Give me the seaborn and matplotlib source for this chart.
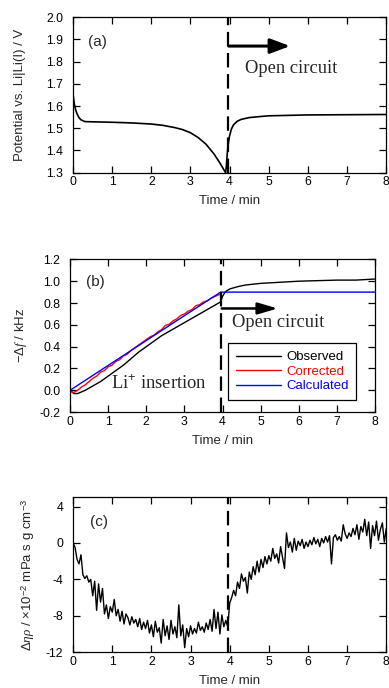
import numpy as np
import pandas as pd
import seaborn as sns
import matplotlib
matplotlib.use("Agg")
import matplotlib.pyplot as plt

# ---- (a) electrode potential
pot_t = [0.0, 0.03, 0.06, 0.1, 0.15, 0.2, 0.3, 0.5, 1.0, 1.5, 2.0, 2.3, 2.6, 2.8, 3.0, 3.2, 3.4,
         3.6, 3.75, 3.85, 3.9, 3.92, 3.94, 3.96, 4.0, 4.05, 4.1, 4.2, 4.3, 4.5, 4.8, 5.0, 6.0, 7.0, 8.0]
pot_v = [1.65, 1.61, 1.585, 1.565, 1.548, 1.538, 1.530, 1.529, 1.527, 1.524, 1.519, 1.513, 1.503,
         1.494, 1.480, 1.458, 1.428, 1.385, 1.345, 1.315, 1.300, 1.330, 1.380, 1.420, 1.465,
         1.497, 1.515, 1.532, 1.540, 1.548, 1.553, 1.556, 1.560, 1.561, 1.562]

# ---- (b) frequency change
obs_t = [0.0, 0.1, 0.2, 0.3, 0.4, 0.5, 0.6, 0.8, 1.0, 1.2, 1.4, 1.6, 1.8, 2.0, 2.2, 2.4, 2.6,
         2.8, 3.0, 3.2, 3.4, 3.6, 3.8, 3.95, 4.0, 4.05, 4.1, 4.2, 4.4, 4.6, 5.0, 5.5, 6.0, 6.5,
         7.0, 7.5, 8.0]
obs_v = [0.0, -0.03, -0.03, -0.015, 0.0, 0.02, 0.04, 0.08, 0.13, 0.18, 0.23, 0.29, 0.35, 0.40,
         0.45, 0.50, 0.54, 0.58, 0.62, 0.66, 0.70, 0.74, 0.78, 0.81, 0.86, 0.89, 0.91, 0.93,
         0.95, 0.965, 0.98, 0.99, 1.0, 1.005, 1.01, 1.01, 1.02]
cor_t = [0.0, 0.1, 0.2, 0.3, 0.4, 0.5, 0.6, 0.7, 0.8, 0.9, 1.0, 1.1, 1.2, 1.3, 1.4, 1.5, 1.6,
         1.7, 1.8, 1.9, 2.0, 2.1, 2.2, 2.3, 2.4, 2.5, 2.6, 2.7, 2.8, 2.9, 3.0, 3.1, 3.2, 3.3,
         3.4, 3.5, 3.6, 3.7, 3.8, 3.9, 3.95]
cor_v = [-0.01, -0.02, 0.0, 0.03, 0.05, 0.08, 0.11, 0.13, 0.165, 0.18, 0.215, 0.23, 0.265, 0.28,
         0.315, 0.33, 0.365, 0.39, 0.415, 0.44, 0.465, 0.49, 0.505, 0.535, 0.555, 0.595, 0.605,
         0.635, 0.655, 0.685, 0.70, 0.725, 0.74, 0.775, 0.785, 0.81, 0.82, 0.845, 0.86, 0.875,
         0.88]
calc_t = [0.0, 3.95, 8.0]
calc_v = [0.0, 0.90, 0.90]

# ---- (c) viscosity-density product
vis_t = np.round(np.arange(0, 161) * 0.05, 2)
vis_v = [0.0, -0.5, -1.8, -2.3, -1.3, -3.5, -3.9, -3.6, -4.3, -4.0,
         -5.8, -4.2, -7.4, -4.5, -6.5, -5.0, -7.8, -6.8, -8.3, -7.0,
         -7.6, -6.2, -8.0, -7.3, -8.6, -7.5, -8.9, -7.8, -8.2, -9.0,
         -8.1, -8.8, -8.4, -9.2, -8.3, -9.5, -8.7, -9.4, -8.5, -9.9,
         -9.0, -10.3, -8.6, -9.8, -9.3, -11.0, -8.4, -10.2, -9.1, -10.6,
         -8.5, -10.0, -9.2, -10.4, -6.8, -10.2, -9.0, -11.5, -9.4, -10.3,
         -9.1, -10.0, -9.4, -9.9, -8.7, -9.6, -9.2, -9.8, -8.8, -9.5,
         -8.4, -9.7, -7.3, -9.4, -7.6, -10.0, -7.9, -9.2, -8.5, -9.2,
         -6.6, -6.0, -5.2, -5.8, -4.3, -5.0, -3.4, -4.2, -3.8, -5.5,
         -3.2, -4.0, -2.6, -3.5, -2.0, -3.2, -1.8, -2.7, -1.5, -2.3,
         -1.4, -2.0, -0.6, -1.7, -1.2, -2.2, -0.4, -1.6, -2.8, 1.1,
         -0.5, 0.1, -1.0, 0.5, -0.8, 0.2, -0.3, 0.4, -0.6, 0.1,
         -0.4, 0.3, -0.2, 0.6, -0.1, 0.4, -0.4, 0.5, 0.0, 0.7,
         0.1, 0.8, -2.3, 0.6, 0.9, 0.3, 0.7, 0.2, 2.0, 1.0,
         0.5, 1.1, 0.7, 1.6, 0.9, 2.0, 0.4, 1.8, 1.2, 2.6,
         0.8, 2.3, -0.6, 1.9, 0.8, 2.4, 0.3, 1.5, 2.2, 0.1, 1.6]

switch_t = 3.95

sns.set_style("ticks")
plt.rcParams["font.family"] = ["Liberation Sans", "DejaVu Sans"]
plt.rcParams["mathtext.fontset"] = "custom"
plt.rcParams["mathtext.it"] = "Liberation Serif:italic"
plt.rcParams["mathtext.rm"] = "Liberation Sans"

fig = plt.figure(figsize=(3.89, 6.88), dpi=100)
ax_a = fig.add_axes([0.188, 0.749, 0.804, 0.226])
ax_b = fig.add_axes([0.180, 0.401, 0.784, 0.222])
ax_c = fig.add_axes([0.188, 0.052, 0.805, 0.225])

serif = ["Liberation Serif", "DejaVu Serif"]
TICK = 8.8
LAB = 9.5


def style(ax, ylim, yticks, yfmt):
    ax.set_xlim(0, 8)
    ax.set_ylim(*ylim)
    ax.set_xticks(range(9))
    ax.set_yticks(yticks)
    ax.set_yticklabels([yfmt(v) for v in yticks])
    ax.tick_params(direction="in", length=5, width=0.9, top=True, right=True,
                   labelsize=TICK, colors="black")
    ax.tick_params(axis="y", pad=7)
    ax.tick_params(axis="x", pad=2.5)
    for s in ax.spines.values():
        s.set_linewidth(0.9)
        s.set_color("black")
    ax.set_xlabel("Time / min", fontsize=LAB, labelpad=5)
    ax.axvline(switch_t, color="black", lw=1.6, ls=(0, (6.5, 3)))


# (a)
sns.lineplot(x=pot_t, y=pot_v, ax=ax_a, color="black", lw=1.2, sort=False)
style(ax_a, (1.3, 2.0), [1.3, 1.4, 1.5, 1.6, 1.7, 1.8, 1.9, 2.0], lambda v: f"{v:.1f}")
ax_a.set_ylabel("Potential vs. Li|Li(I) / V", fontsize=LAB)
ax_a.yaxis.set_label_coords(-0.150, 0.5)
ax_a.text(0.38, 1.89, "(a)", fontsize=11, va="center")
ax_a.annotate("", xy=(5.55, 1.87), xytext=(3.98, 1.87),
              arrowprops=dict(arrowstyle="-|>,head_length=1.2,head_width=0.45", lw=2.2,
                              color="black", shrinkA=0, shrinkB=0))
ax_a.text(4.4, 1.77, "Open circuit", fontsize=13.3, family=serif, va="center")

# (b)
sns.lineplot(x=obs_t, y=obs_v, ax=ax_b, color="black", lw=1.0, label="Observed")
sns.lineplot(x=cor_t, y=cor_v, ax=ax_b, color="red", lw=1.0, label="Corrected")
sns.lineplot(x=calc_t, y=calc_v, ax=ax_b, color="blue", lw=1.0, label="Calculated")
style(ax_b, (-0.2, 1.2), [-0.2, 0.0, 0.2, 0.4, 0.6, 0.8, 1.0, 1.2],
      lambda v: f"{v:.1f}")
ax_b.set_ylabel(r"$-\Delta$$\it{f}$ / kHz", fontsize=LAB)
ax_b.yaxis.set_label_coords(-0.134, 0.5)
ax_b.text(0.42, 0.99, "(b)", fontsize=11, va="center")
ax_b.annotate("", xy=(5.45, 0.75), xytext=(3.98, 0.75),
              arrowprops=dict(arrowstyle="-|>,head_length=1.2,head_width=0.35", lw=1.8,
                              color="black", shrinkA=0, shrinkB=0))
ax_b.text(4.25, 0.62, "Open circuit", fontsize=13.3, family=serif, va="center")
ax_b.text(1.08, 0.065, r"Li$^{+}$ insertion", fontsize=13.3, family=serif, va="center")
leg = ax_b.legend(loc="lower left", bbox_to_anchor=(0.518, 0.078), fontsize=9.5,
                  handlelength=3.4, labelspacing=0.17, borderpad=0.6,
                  fancybox=False, framealpha=1, labelcolor="linecolor",
                  handletextpad=0.4, borderaxespad=0)
leg.get_frame().set_edgecolor("black")
leg.get_frame().set_linewidth(0.9)

# (c)
sns.lineplot(x=vis_t, y=vis_v, ax=ax_c, color="black", lw=1.0)
style(ax_c, (-12, 5), [-12, -8, -4, 0, 4], lambda v: f"{v:d}")
ax_c.set_ylabel(r"$\Delta\it{\eta\rho}$ / $\times$10$^{-2}$ mPa s g cm$^{-3}$",
                fontsize=LAB)
ax_c.yaxis.set_label_coords(-0.115, 0.5)
ax_c.text(0.42, 2.35, "(c)", fontsize=11, va="center")

fig.savefig("out.png", dpi=100)
